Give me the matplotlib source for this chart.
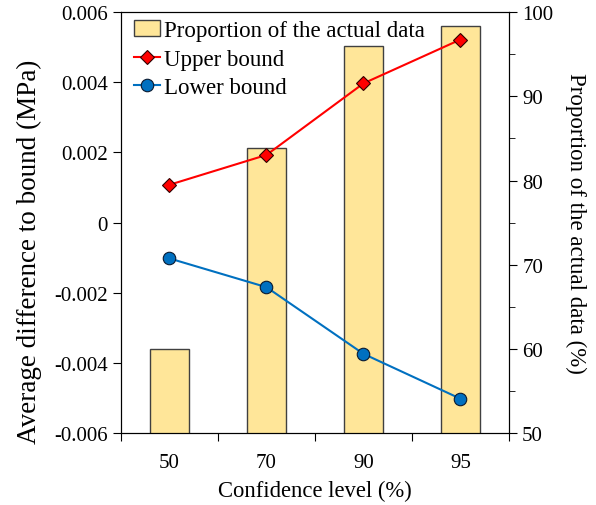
import matplotlib
matplotlib.use("Agg")
import matplotlib.pyplot as plt
from matplotlib.ticker import MultipleLocator, FuncFormatter
import numpy as np

plt.rcParams['font.family'] = ['Liberation Serif', 'DejaVu Serif']
plt.rcParams['font.size'] = 15

# data
levels = ['50', '70', '90', '95']
proportion = [60.0, 83.9, 96.0, 98.4]
upper = [0.00108, 0.00193, 0.00397, 0.00522]
lower = [-0.00102, -0.00184, -0.00374, -0.00502]

x = np.arange(len(levels))

fig = plt.figure(figsize=(5.96, 5.06), dpi=100)
ax = fig.add_axes([0.203, 0.142, 0.651, 0.832])
ax2 = ax.twinx()

# bars on right axis, drawn behind the lines
b = ax2.bar(x, proportion, width=0.4, color='#FFE699', edgecolor='#404040',
            linewidth=1.0, label='Proportion of the actual data')
ax2.set_ylim(50, 100)
ax2.yaxis.set_major_locator(MultipleLocator(10))
ax2.yaxis.set_minor_locator(MultipleLocator(5))
ax2.set_ylabel('Proportion of the actual data (%)', rotation=270,
               labelpad=24, fontsize=16.5)

ax.set_zorder(ax2.get_zorder() + 1)
ax.patch.set_visible(False)

l1, = ax.plot(x, upper, color='red', lw=1.5, marker='D', ms=7,
              mfc='red', mec='#300000', mew=0.8, label='Upper bound')
l2, = ax.plot(x, lower, color='#0070C0', lw=1.5, marker='o', ms=9,
              mfc='#0070C0', mec='#0a1a30', mew=0.8, label='Lower bound')

ax.set_ylim(-0.006, 0.006)
ax.yaxis.set_major_locator(MultipleLocator(0.002))
ax.yaxis.set_major_formatter(FuncFormatter(lambda v, p: '0' if abs(v) < 1e-9 else f'{v:.3f}'))
ax.set_xlim(-0.5, len(levels) - 0.5)
ax.set_xticks(np.arange(-0.5, len(levels)), minor=False)
ax.set_xticklabels([])
ax.set_xticks(x, minor=True)
ax.set_xticklabels(levels, minor=True)
ax.tick_params(axis='x', which='minor', length=0, pad=14)
ax.tick_params(axis='x', which='major', length=6, direction='out')
ax.tick_params(axis='y', direction='out', length=6)
ax2.tick_params(axis='y', which='major', direction='out', length=6)
ax2.tick_params(axis='y', which='minor', direction='out', length=4)
ax.set_xlabel('Confidence level (%)', labelpad=6, fontsize=16.3)
ax.set_ylabel('Average difference to bound (MPa)', fontsize=19.5)
ax.yaxis.set_label_coords(-0.203, 0.432)

ax.legend([b, l1, l2], [b.get_label(), l1.get_label(), l2.get_label()],
          loc='upper left', frameon=False, fontsize=16.5,
          bbox_to_anchor=(0.013, 1.0), borderaxespad=0.1, borderpad=0.25,
          handlelength=1.15, handletextpad=0.15, labelspacing=0.32)

fig.savefig('out.png', dpi=100)
